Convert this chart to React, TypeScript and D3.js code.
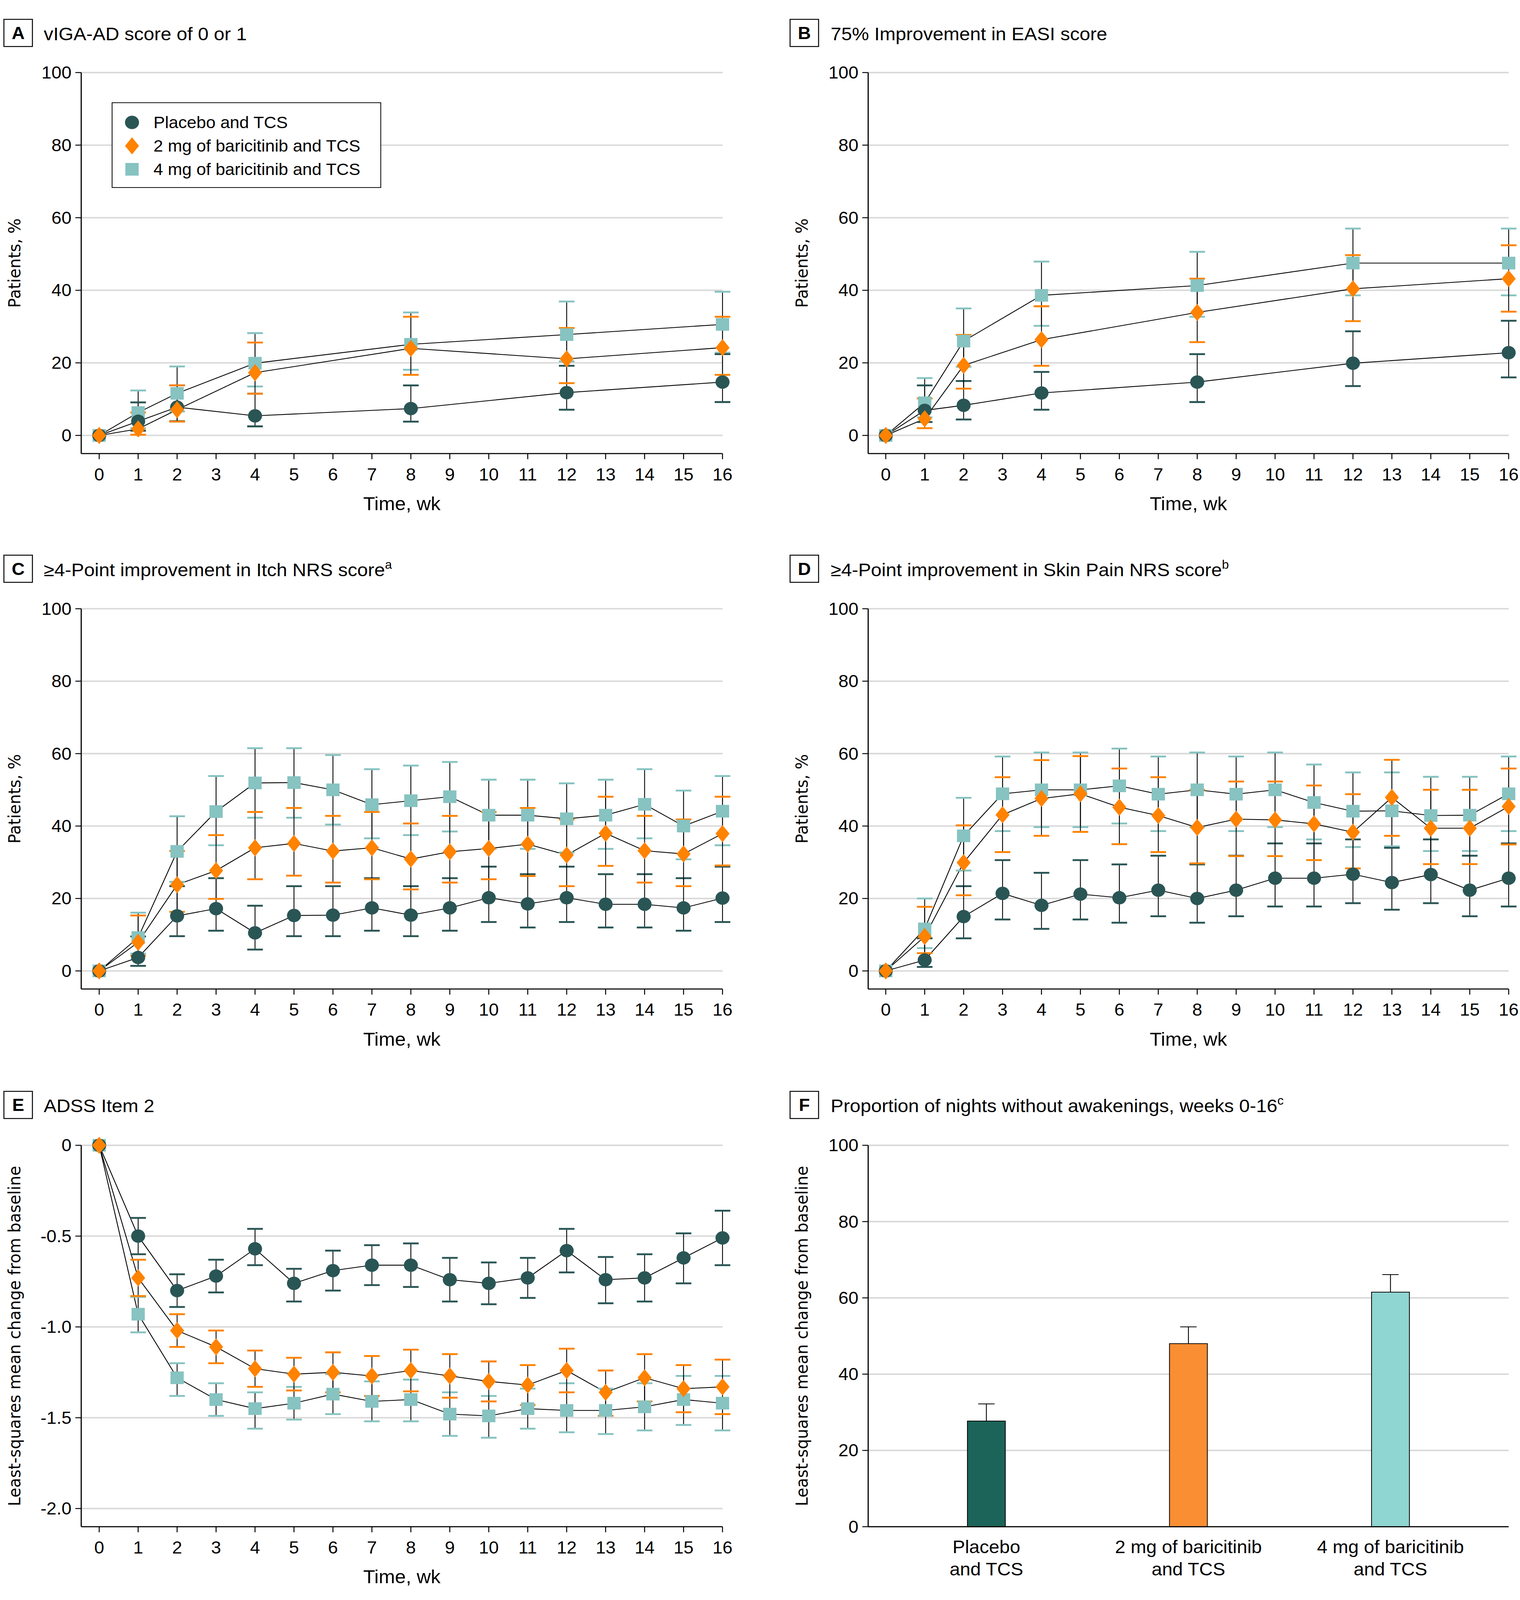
import React, { useEffect } from 'react';
import * as d3 from 'd3';

const W = 3892;
const H = 4300;
const FONT = '"Liberation Sans", Arial, sans-serif';
const LABEL_FONT = '"DejaVu Sans", sans-serif';

const COLORS = { placebo: '#2a5555', mg2: '#ff8200', mg4: '#86c3c1' };
const BAR_COLORS = ['#1c6459', '#f98e33', '#8fd5d1'];
const GRID = '#d9d9d9';

// axis ticks / categories
const weekTicks = [0, 1, 2, 3, 4, 5, 6, 7, 8, 9, 10, 11, 12, 13, 14, 15, 16];
const sparseWeeks = [0, 1, 2, 4, 8, 12, 16];
const allWeeks = [0, 1, 2, 3, 4, 5, 6, 7, 8, 9, 10, 11, 12, 13, 14, 15, 16];
const pctTicks = [0, 20, 40, 60, 80, 100];
const adssTicks = [0, -0.5, -1.0, -1.5, -2.0];
const legendNames = ['Placebo and TCS', '2 mg of baricitinib and TCS', '4 mg of baricitinib and TCS'];

// A: vIGA-AD 0/1
const aPlacebo = [0, 3.9, 7.8, 5.4, 7.4, 11.8, 14.7];
const aPlaceboLo = [0, 1.3, 3.9, 2.5, 3.8, 7.1, 9.2];
const aPlaceboHi = [0, 9.1, 13.8, 11.5, 13.8, 19.2, 22.4];
const a2mg = [0, 1.8, 7.1, 17.3, 24.0, 21.1, 24.2];
const a2mgLo = [0, 0.2, 3.8, 11.5, 16.7, 14.4, 16.7];
const a2mgHi = [0, 6.3, 13.8, 25.6, 32.7, 29.6, 32.7];
const a4mg = [0, 6.3, 11.6, 19.9, 25.1, 27.8, 30.6];
const a4mgLo = [0, 2.0, 6.6, 13.5, 18.1, 20.4, 22.8];
const a4mgHi = [0, 12.4, 19.0, 28.2, 33.9, 36.9, 39.6];

// B: EASI-75
const bPlacebo = [0, 6.9, 8.3, 11.7, 14.7, 19.9, 22.8];
const bPlaceboLo = [0, 3.7, 4.4, 7.1, 9.2, 13.6, 16.0];
const bPlaceboHi = [0, 13.8, 15.0, 17.5, 22.4, 28.7, 31.6];
const b2mg = [0, 4.6, 19.3, 26.4, 33.9, 40.4, 43.2];
const b2mgLo = [0, 2.0, 12.9, 19.2, 25.7, 31.5, 34.1];
const b2mgHi = [0, 10.2, 27.7, 35.6, 43.2, 49.7, 52.4];
const b4mg = [0, 9.0, 26.0, 38.6, 41.3, 47.5, 47.5];
const b4mgLo = [0, 5.0, 18.9, 30.2, 32.7, 38.6, 38.6];
const b4mgHi = [0, 15.8, 35.0, 47.9, 50.6, 57.0, 57.0];

// C: Itch NRS
const cPlacebo = [0, 3.7, 15.2, 17.2, 10.5, 15.3, 15.4, 17.4, 15.4, 17.4, 20.2, 18.5, 20.2, 18.4, 18.4, 17.4, 20.1];
const cPlaceboLo = [0, 1.4, 9.6, 11.1, 5.9, 9.6, 9.6, 11.1, 9.6, 11.1, 13.5, 12.0, 13.5, 12.0, 12.0, 11.1, 13.5];
const cPlaceboHi = [0, 9.5, 23.4, 25.6, 18.0, 23.4, 23.4, 25.6, 23.4, 25.6, 28.8, 26.7, 28.8, 26.7, 26.7, 25.6, 28.8];
const c2mg = [0, 7.9, 23.8, 27.7, 34.0, 35.2, 33.1, 34.0, 30.9, 32.9, 33.8, 35.0, 32.0, 38.0, 33.2, 32.3, 37.9];
const c2mgLo = [0, 4.2, 16.3, 19.9, 25.3, 26.3, 24.4, 25.3, 22.5, 24.4, 25.3, 26.2, 23.4, 29.0, 24.4, 23.4, 29.1];
const c2mgHi = [0, 15.3, 33.1, 37.5, 43.9, 45.0, 42.8, 43.9, 40.7, 42.8, 43.9, 45.0, 41.8, 48.1, 42.8, 41.8, 48.1];
const c4mg = [0, 9.2, 33.0, 44.0, 51.9, 52.0, 50.0, 45.9, 47.0, 48.1, 43.0, 43.0, 42.0, 43.0, 46.0, 40.0, 44.1];
const c4mgLo = [0, 4.8, 24.6, 34.7, 42.3, 42.3, 40.4, 36.6, 37.5, 38.5, 33.7, 33.7, 32.7, 33.7, 36.6, 30.8, 34.7];
const c4mgHi = [0, 16.1, 42.7, 53.8, 61.5, 61.5, 59.6, 55.7, 56.7, 57.7, 52.8, 52.8, 51.8, 52.8, 55.7, 49.8, 53.8];

// D: Skin pain NRS
const dPlacebo = [0, 3.0, 15.0, 21.4, 18.1, 21.2, 20.2, 22.3, 20.0, 22.3, 25.6, 25.6, 26.7, 24.4, 26.6, 22.3, 25.6];
const dPlaceboLo = [0, 1.1, 9.0, 14.2, 11.6, 14.2, 13.3, 15.1, 13.3, 15.1, 17.8, 17.8, 18.7, 16.9, 18.7, 15.1, 17.8];
const dPlaceboHi = [0, 9.0, 23.4, 30.6, 27.1, 30.6, 29.4, 31.8, 29.4, 31.8, 35.2, 35.2, 36.3, 34.0, 36.3, 31.8, 35.2];
const d2mg = [0, 9.5, 29.9, 43.1, 47.6, 48.9, 45.2, 42.9, 39.6, 41.9, 41.7, 40.6, 38.3, 47.9, 39.4, 39.4, 45.4];
const d2mgLo = [0, 4.9, 20.9, 32.8, 37.3, 38.4, 35.0, 32.8, 29.7, 31.7, 31.7, 30.6, 28.3, 37.3, 29.5, 29.5, 34.9];
const d2mgHi = [0, 17.7, 40.2, 53.5, 58.2, 59.3, 55.9, 53.5, 50.0, 52.3, 52.3, 51.2, 48.8, 58.3, 50.0, 50.0, 55.9];
const d4mg = [0, 11.6, 37.3, 48.9, 50.0, 50.0, 51.1, 48.8, 50.0, 48.8, 50.0, 46.5, 44.1, 44.2, 42.9, 43.0, 48.9];
const d4mgLo = [0, 6.3, 27.7, 38.6, 39.7, 39.7, 40.7, 38.6, 39.7, 38.6, 39.7, 36.3, 34.2, 34.4, 33.1, 33.1, 38.6];
const d4mgHi = [0, 20.0, 47.8, 59.2, 60.3, 60.3, 61.4, 59.2, 60.3, 59.2, 60.3, 57.0, 54.8, 54.8, 53.6, 53.6, 59.2];

// E: ADSS item 2
const ePlacebo = [0, -0.50, -0.80, -0.72, -0.57, -0.76, -0.69, -0.66, -0.66, -0.74, -0.76, -0.73, -0.58, -0.74, -0.73, -0.62, -0.51];
const ePlaceboLo = [0, -0.60, -0.89, -0.81, -0.66, -0.86, -0.80, -0.77, -0.78, -0.86, -0.875, -0.84, -0.70, -0.87, -0.86, -0.76, -0.66];
const ePlaceboHi = [0, -0.40, -0.71, -0.63, -0.46, -0.68, -0.58, -0.55, -0.54, -0.62, -0.645, -0.62, -0.46, -0.615, -0.60, -0.485, -0.36];
const e2mg = [0, -0.73, -1.02, -1.11, -1.23, -1.26, -1.25, -1.27, -1.24, -1.27, -1.30, -1.32, -1.24, -1.36, -1.28, -1.34, -1.33];
const e2mgLo = [0, -0.83, -1.11, -1.20, -1.33, -1.35, -1.36, -1.38, -1.355, -1.39, -1.41, -1.43, -1.36, -1.49, -1.41, -1.47, -1.48];
const e2mgHi = [0, -0.63, -0.93, -1.02, -1.13, -1.17, -1.14, -1.16, -1.125, -1.15, -1.19, -1.21, -1.12, -1.24, -1.15, -1.21, -1.18];
const e4mg = [0, -0.93, -1.28, -1.40, -1.45, -1.42, -1.37, -1.41, -1.40, -1.48, -1.49, -1.45, -1.46, -1.46, -1.44, -1.40, -1.42];
const e4mgLo = [0, -1.03, -1.38, -1.49, -1.56, -1.51, -1.48, -1.52, -1.52, -1.60, -1.61, -1.56, -1.58, -1.59, -1.57, -1.54, -1.57];
const e4mgHi = [0, -0.835, -1.20, -1.31, -1.36, -1.33, -1.26, -1.30, -1.29, -1.36, -1.38, -1.34, -1.31, -1.34, -1.31, -1.27, -1.27];

// F: nights without awakenings
const fCategories = ['placebo', 'mg2', 'mg4'];
const fLabels = [['Placebo', 'and TCS'], ['2 mg of baricitinib', 'and TCS'], ['4 mg of baricitinib', 'and TCS']];
const fValues = [27.7, 48.0, 61.5];
const fUpper = [32.2, 52.4, 66.1];

// layout
const COLS = {
  L: { axisX: 208, x0: 254, x16: 1850, boxX: 10, textX: 112, labelX: 52 },
  R: { axisX: 2223, x0: 2268, x16: 3863, boxX: 2023, textX: 2127, labelX: 2068 },
};
const ROWS = {
  1: { top: 195, bottom: 1219, box: 52 },
  2: { top: 1636, bottom: 2658, box: 1492 },
  3: { top: 3078, bottom: 4103, box: 2933 },
};

type Shape = 'circle' | 'diamond' | 'square';

function Marker({ shape, color, cx, cy }: { shape: Shape; color: string; cx: number; cy: number }) {
  if (shape === 'circle') return <circle cx={cx} cy={cy} r={18} fill={color} />;
  if (shape === 'square') return <rect x={cx - 17} y={cy - 17} width={34} height={34} fill={color} />;
  return <path d={`M${cx},${cy - 23}L${cx + 18},${cy}L${cx},${cy + 23}L${cx - 18},${cy}Z`} fill={color} />;
}

function PanelTitle({ col, row, letter, title, sup }: any) {
  const C = COLS[col as 'L' | 'R'];
  const R = ROWS[row as 1 | 2 | 3];
  return (
    <g fontFamily={FONT}>
      <rect x={C.boxX} y={R.box} width={73} height={73} fill="#fff" stroke="#000" strokeWidth={2.5} />
      <text x={C.boxX + 36.5} y={R.box + 53} textAnchor="middle" fontSize={46} fontWeight="bold">{letter}</text>
      <text x={C.textX} y={R.box + 56} fontSize={49}>
        {title}
        {sup ? <tspan fontSize={32} dy={-20}>{sup}</tspan> : null}
      </text>
    </g>
  );
}

function YAxis({ C, y, ticks, fmt, top, bottom, gridTo, label }: any) {
  return (
    <g fontFamily={FONT}>
      {ticks.map((t: number) => (
        <line key={'g' + t} x1={C.axisX} x2={gridTo} y1={y(t)} y2={y(t)} stroke={GRID} strokeWidth={4} />
      ))}
      <line x1={C.axisX} x2={C.axisX} y1={top} y2={bottom} stroke="#000" strokeWidth={3} />
      {ticks.map((t: number) => (
        <g key={'t' + t}>
          <line x1={C.axisX - 15} x2={C.axisX} y1={y(t)} y2={y(t)} stroke="#000" strokeWidth={2.5} />
          <text x={C.axisX - 25} y={y(t)} dy="0.35em" textAnchor="end" fontSize={46}>{fmt(t)}</text>
        </g>
      ))}
      <text
        transform={`translate(${C.labelX},${(top + bottom) / 2}) rotate(-90)`}
        textAnchor="middle"
        fontFamily={LABEL_FONT}
        fontSize={43}
      >
        {label}
      </text>
    </g>
  );
}

function LinePanel(props: any) {
  const { col, row, weeks, data, domain, ticks, fmt, yLabel, showLegend } = props;
  const C = COLS[col as 'L' | 'R'];
  const R = ROWS[row as 1 | 2 | 3];
  const x = d3.scaleLinear().domain([0, 16]).range([C.x0, C.x16]);
  const y = d3.scaleLinear().domain(domain).range([R.bottom, R.top]);
  const line = d3.line<number>().x((_, i) => x(weeks[i])).y((d) => y(d));

  const series = [
    { key: 'mg4', shape: 'square' as Shape, color: COLORS.mg4, ...data.mg4 },
    { key: 'placebo', shape: 'circle' as Shape, color: COLORS.placebo, ...data.placebo },
    { key: 'mg2', shape: 'diamond' as Shape, color: COLORS.mg2, ...data.mg2 },
  ];

  return (
    <g>
      <YAxis C={C} y={y} ticks={ticks} fmt={fmt} top={R.top} bottom={R.bottom} gridTo={C.x16} label={yLabel} />
      <g fontFamily={FONT}>
        <line x1={C.axisX} x2={C.x16} y1={R.bottom} y2={R.bottom} stroke="#000" strokeWidth={3} />
        {weekTicks.map((t) => (
          <g key={t}>
            <line x1={x(t)} x2={x(t)} y1={R.bottom} y2={R.bottom + 15} stroke="#000" strokeWidth={2.5} />
            <text x={x(t)} y={R.bottom + 72} textAnchor="middle" fontSize={46}>{t}</text>
          </g>
        ))}
        <text x={(C.axisX + C.x16) / 2} y={R.bottom + 152} textAnchor="middle" fontSize={50}>Time, wk</text>
      </g>
      {series.map((s) => (
        <path key={'l' + s.key} d={line(s.mean) || ''} fill="none" stroke="#000" strokeWidth={2.2} />
      ))}
      {series.map((s) => (
        <g key={'e' + s.key}>
          {s.mean.map((_: number, i: number) =>
            s.lo[i] === s.hi[i] ? null : (
              <g key={i}>
                <line x1={x(weeks[i])} x2={x(weeks[i])} y1={y(s.lo[i])} y2={y(s.hi[i])} stroke="#000" strokeWidth={2.2} />
                <line x1={x(weeks[i]) - 20} x2={x(weeks[i]) + 20} y1={y(s.lo[i])} y2={y(s.lo[i])} stroke={s.color} strokeWidth={5} />
                <line x1={x(weeks[i]) - 20} x2={x(weeks[i]) + 20} y1={y(s.hi[i])} y2={y(s.hi[i])} stroke={s.color} strokeWidth={5} />
              </g>
            )
          )}
        </g>
      ))}
      {series.map((s) => (
        <g key={'m' + s.key}>
          {s.mean.map((v: number, i: number) => (
            <Marker key={i} shape={s.shape} color={s.color} cx={x(weeks[i])} cy={y(v)} />
          ))}
        </g>
      ))}
      {showLegend ? (
        <g fontFamily={FONT}>
          <rect x={287} y={276} width={688} height={228} fill="#fff" stroke="#000" strokeWidth={2} />
          {[
            { shape: 'circle' as Shape, color: COLORS.placebo },
            { shape: 'diamond' as Shape, color: COLORS.mg2 },
            { shape: 'square' as Shape, color: COLORS.mg4 },
          ].map((m, i) => (
            <g key={i}>
              <Marker shape={m.shape} color={m.color} cx={338} cy={329 + i * 63} />
              <text x={393} y={329 + i * 63 + 15} fontSize={44}>{legendNames[i]}</text>
            </g>
          ))}
        </g>
      ) : null}
    </g>
  );
}

function BarPanel() {
  const C = COLS.R;
  const R = ROWS[3];
  const x = d3.scalePoint<string>().domain(fCategories).range([C.axisX, C.x16]).padding(0.585);
  const y = d3.scaleLinear().domain([0, 100]).range([R.bottom, R.top]);
  const bw = 97;
  return (
    <g>
      <YAxis
        C={C}
        y={y}
        ticks={pctTicks}
        fmt={(t: number) => String(t)}
        top={R.top}
        bottom={R.bottom}
        gridTo={C.x16}
        label="Least-squares mean change from baseline"
      />
      {fCategories.map((c, i) => {
        const cx = x(c) as number;
        return (
          <g key={c}>
            <line x1={cx} x2={cx} y1={y(fValues[i])} y2={y(fUpper[i])} stroke="#000" strokeWidth={2.2} />
            <line x1={cx - 21} x2={cx + 21} y1={y(fUpper[i])} y2={y(fUpper[i])} stroke="#000" strokeWidth={2.2} />
            <rect
              x={cx - bw / 2}
              y={y(fValues[i])}
              width={bw}
              height={y(0) - y(fValues[i])}
              fill={BAR_COLORS[i]}
              stroke="#000"
              strokeWidth={2}
            />
            {fLabels[i].map((ln, j) => (
              <text key={j} x={cx} y={R.bottom + 71 + j * 60} textAnchor="middle" fontFamily={FONT} fontSize={48}>
                {ln}
              </text>
            ))}
          </g>
        );
      })}
      <line x1={C.axisX} x2={C.x16} y1={R.bottom} y2={R.bottom} stroke="#000" strokeWidth={3} />
    </g>
  );
}

const pctFmt = (t: number) => String(t);
const adssFmt = (t: number) => (t === 0 ? '0' : t.toFixed(1));

export default function App() {
  useEffect(() => {
    document.body.style.margin = '0';
    document.body.style.overflow = 'hidden';
  }, []);

  // the svg is stretched over the visible viewport so that the whole figure is in view
  return (
    <svg
      viewBox={`0 0 ${W} ${H}`}
      preserveAspectRatio="none"
      style={{ position: 'fixed', left: 0, top: 0, width: '100vw', height: '100vh', display: 'block', background: '#fff' }}
    >
      <rect width={W} height={H} fill="#fff" />

      <PanelTitle col="L" row={1} letter="A" title="vIGA-AD score of 0 or 1" />
      <LinePanel
        col="L"
        row={1}
        weeks={sparseWeeks}
        domain={[-5, 100]}
        ticks={pctTicks}
        fmt={pctFmt}
        yLabel="Patients, %"
        showLegend
        data={{
          placebo: { mean: aPlacebo, lo: aPlaceboLo, hi: aPlaceboHi },
          mg2: { mean: a2mg, lo: a2mgLo, hi: a2mgHi },
          mg4: { mean: a4mg, lo: a4mgLo, hi: a4mgHi },
        }}
      />

      <PanelTitle col="R" row={1} letter="B" title="75% Improvement in EASI score" />
      <LinePanel
        col="R"
        row={1}
        weeks={sparseWeeks}
        domain={[-5, 100]}
        ticks={pctTicks}
        fmt={pctFmt}
        yLabel="Patients, %"
        data={{
          placebo: { mean: bPlacebo, lo: bPlaceboLo, hi: bPlaceboHi },
          mg2: { mean: b2mg, lo: b2mgLo, hi: b2mgHi },
          mg4: { mean: b4mg, lo: b4mgLo, hi: b4mgHi },
        }}
      />

      <PanelTitle col="L" row={2} letter="C" title="≥4-Point improvement in Itch NRS score" sup="a" />
      <LinePanel
        col="L"
        row={2}
        weeks={allWeeks}
        domain={[-5, 100]}
        ticks={pctTicks}
        fmt={pctFmt}
        yLabel="Patients, %"
        data={{
          placebo: { mean: cPlacebo, lo: cPlaceboLo, hi: cPlaceboHi },
          mg2: { mean: c2mg, lo: c2mgLo, hi: c2mgHi },
          mg4: { mean: c4mg, lo: c4mgLo, hi: c4mgHi },
        }}
      />

      <PanelTitle col="R" row={2} letter="D" title="≥4-Point improvement in Skin Pain NRS score" sup="b" />
      <LinePanel
        col="R"
        row={2}
        weeks={allWeeks}
        domain={[-5, 100]}
        ticks={pctTicks}
        fmt={pctFmt}
        yLabel="Patients, %"
        data={{
          placebo: { mean: dPlacebo, lo: dPlaceboLo, hi: dPlaceboHi },
          mg2: { mean: d2mg, lo: d2mgLo, hi: d2mgHi },
          mg4: { mean: d4mg, lo: d4mgLo, hi: d4mgHi },
        }}
      />

      <PanelTitle col="L" row={3} letter="E" title="ADSS Item 2" />
      <LinePanel
        col="L"
        row={3}
        weeks={allWeeks}
        domain={[-2.1, 0]}
        ticks={adssTicks}
        fmt={adssFmt}
        yLabel="Least-squares mean change from baseline"
        data={{
          placebo: { mean: ePlacebo, lo: ePlaceboLo, hi: ePlaceboHi },
          mg2: { mean: e2mg, lo: e2mgLo, hi: e2mgHi },
          mg4: { mean: e4mg, lo: e4mgLo, hi: e4mgHi },
        }}
      />

      <PanelTitle col="R" row={3} letter="F" title="Proportion of nights without awakenings, weeks 0-16" sup="c" />
      <BarPanel />
    </svg>
  );
}
